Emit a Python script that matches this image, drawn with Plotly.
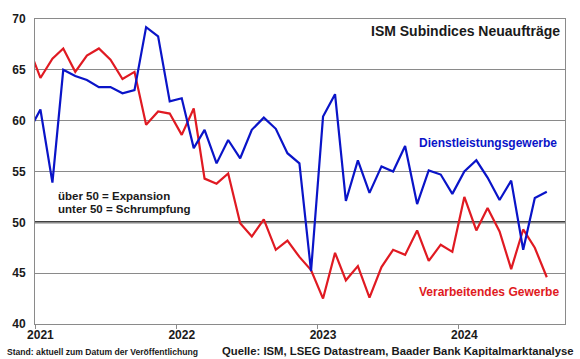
import pandas as pd
import plotly.graph_objects as go

# ---- data (monthly, Dec 2020 - Aug 2024) ----
start_month = "2020-12"
services_new_orders = [
    58.9,
    61.1, 53.9, 65.0, 64.4, 64.0, 63.3, 63.3, 62.7, 63.0, 69.2, 68.3, 61.9,
    62.2, 57.3, 59.1, 55.8, 58.1, 56.3, 59.1, 60.3, 59.2, 56.8, 55.8, 45.2,
    60.4, 62.6, 52.1, 56.1, 52.9, 55.5, 55.0, 57.5, 51.8, 55.1, 54.7, 52.8,
    55.0, 56.1, 54.4, 52.2, 54.1, 47.3, 52.4, 53.0,
]
manufacturing_new_orders = [
    67.3,
    64.2, 66.1, 67.1, 64.8, 66.4, 67.1, 66.0, 64.1, 64.8, 59.6, 60.9, 60.7,
    58.6, 61.2, 54.3, 53.8, 54.8, 49.9, 48.6, 50.3, 47.3, 48.2, 46.6, 45.3,
    42.5, 47.0, 44.3, 45.7, 42.6, 45.6, 47.3, 46.8, 49.2, 46.2, 47.8, 47.1,
    52.5, 49.2, 51.4, 49.1, 45.4, 49.3, 47.5, 44.6,
]
year_ticks = ["2021", "2022", "2023", "2024"]
y_ticks = [40, 45, 50, 55, 60, 65, 70]
threshold = 50

title_text = "ISM Subindices Neuaufträge"
services_label = "Dienstleistungsgewerbe"
manufacturing_label = "Verarbeitendes Gewerbe"
note_lines = ["über 50 = Expansion", "unter 50 = Schrumpfung"]
stand_text = "Stand: aktuell zum Datum der Veröffentlichung"
source_text = "Quelle: ISM, LSEG Datastream, Baader Bank Kapitalmarktanalyse"

# points plotted at mid-month
months = pd.period_range(start_month, periods=len(services_new_orders), freq="M")
x_dates = [p.to_timestamp() + pd.Timedelta(days=14) for p in months]

BLUE = "#0a14c8"
RED = "#e01a22"
GRID = "#8a8a8a"
FONT = "Liberation Sans, Arial, sans-serif"

fig = go.Figure()
fig.add_trace(go.Scatter(x=x_dates, y=manufacturing_new_orders, mode="lines",
                         line=dict(color=RED, width=2.2), name=manufacturing_label))
fig.add_trace(go.Scatter(x=x_dates, y=services_new_orders, mode="lines",
                         line=dict(color=BLUE, width=2.2), name=services_label))

fig.add_shape(type="line", xref="paper", x0=0, x1=1, yref="y", y0=threshold, y1=threshold,
              line=dict(color="black", width=2), layer="below")

tick_dates = [pd.Timestamp(f"{y}-01-15") for y in year_ticks]
boundary_dates = [pd.Timestamp(f"{y}-01-01") for y in year_ticks]

fig.update_layout(
    width=580, height=359,
    margin=dict(l=30, r=15, t=15.5, b=35),
    paper_bgcolor="white", plot_bgcolor="white",
    showlegend=False,
    font=dict(family=FONT, color="#1a1a1a"),
    xaxis=dict(
        type="date",
        range=["2021-01-01", "2024-10-01"],
        tickmode="array", tickvals=tick_dates, ticktext=[f"<b>{t}</b>" for t in year_ticks],
        ticks="", showgrid=False, zeroline=False,
        showline=True, linecolor=GRID, linewidth=1, mirror=True,
        tickfont=dict(size=12, family=FONT, color="#1a1a1a"),
        minor=dict(tickmode="array", tickvals=boundary_dates, ticks="outside",
                   ticklen=4, tickcolor=GRID, tickwidth=1, showgrid=False),
    ),
    yaxis=dict(
        range=[40, 70],
        tickmode="array", tickvals=y_ticks, ticktext=[f"<b>{v}</b>" for v in y_ticks],
        ticks="", showgrid=True, gridcolor=GRID, gridwidth=1, zeroline=False,
        showline=True, linecolor=GRID, linewidth=1, mirror=True,
        tickfont=dict(size=12, family=FONT, color="#1a1a1a"),
        ticklabelstandoff=6,
    ),
)

def note(text, x, y, size, color="#1a1a1a", xanchor="left"):
    fig.add_annotation(text=f"<b>{text}</b>", xref="paper", yref="paper", x=x, y=y,
                       xanchor=xanchor, yanchor="middle", showarrow=False,
                       borderpad=0,
                       font=dict(family=FONT, size=size, color=color))

note(title_text, 0.9925, 0.9595, 14, xanchor="right")
note(services_label, 0.987, 0.593, 12, color=BLUE, xanchor="right")
note(manufacturing_label, 0.9907, 0.1047, 12, color=RED, xanchor="right")
note(note_lines[0], 0.041, 0.4198, 11.5)
note(note_lines[1], 0.041, 0.3776, 11.5)
note(stand_text, -0.0545, -0.0924, 8.6)
note(source_text, 1.0187, -0.0875, 11.3, xanchor="right")

fig.write_html("out.html", config={"displayModeBar": False},
               post_script="document.body.style.margin='0';")
